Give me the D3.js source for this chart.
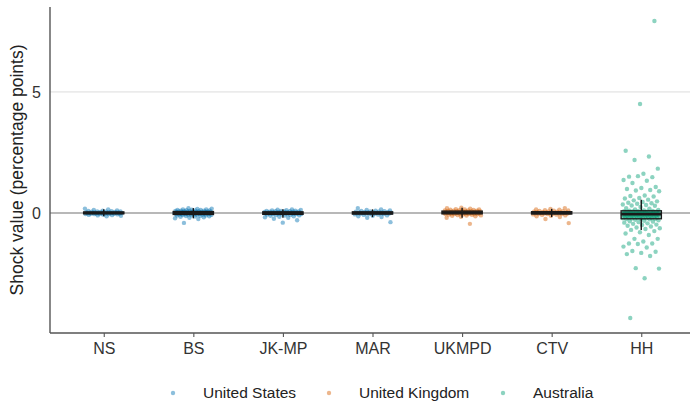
<!DOCTYPE html>
<html>
<head>
<meta charset="utf-8">
<script src="https://cdn.jsdelivr.net/npm/d3@7/dist/d3.min.js"></script>
<style>
  html, body { margin: 0; padding: 0; background: #fff; }
  svg { display: block; font-family: "Liberation Sans", Arial, sans-serif; }
</style>
</head>
<body>
<svg id="chart" width="690" height="402"></svg>
<script>
// ---- Data ----
const categories = ["NS", "BS", "JK-MP", "MAR", "UKMPD", "CTV", "HH"];
const categoryCountry = ["United States", "United States", "United States", "United States", "United Kingdom", "United Kingdom", "Australia"];
const countries = ["United States", "United Kingdom", "Australia"];
const countryColors = ["#0072B2", "#D55E00", "#009E73"];
const yTicks = [0, 5];

const valuesNS = [0.18, 0.15, 0.12, 0.1, 0.09, 0.08, 0.07, 0.06, 0.06, 0.05, 0.05, 0.04, 0.04, 0.03, 0.03, 0.02, 0.02, 0.02, 0.01, 0.01, 0.01, 0.0, 0.0, 0.0, 0.0, -0.01, -0.01, -0.01, -0.02, -0.02, -0.02, -0.03, -0.03, -0.04, -0.04, -0.05, -0.05, -0.06, -0.07, -0.08, -0.09, -0.1, -0.12, -0.14];
const valuesBS = [0.2, 0.18, 0.17, 0.15, 0.14, 0.13, 0.12, 0.12, 0.11, 0.1, 0.1, 0.09, 0.09, 0.08, 0.08, 0.07, 0.07, 0.06, 0.06, 0.06, 0.05, 0.05, 0.05, 0.04, 0.04, 0.04, 0.03, 0.03, 0.03, 0.02, 0.02, 0.02, 0.01, 0.01, 0.01, 0.0, 0.0, 0.0, 0.0, -0.01, -0.01, -0.01, -0.02, -0.02, -0.02, -0.03, -0.03, -0.03, -0.04, -0.04, -0.05, -0.05, -0.06, -0.06, -0.07, -0.07, -0.08, -0.08, -0.09, -0.1, -0.1, -0.11, -0.12, -0.13, -0.14, -0.15, -0.16, -0.18, -0.2, -0.22, -0.25, -0.41];
const valuesJKMP = [0.15, 0.13, 0.12, 0.11, 0.1, 0.09, 0.08, 0.08, 0.07, 0.07, 0.06, 0.06, 0.05, 0.05, 0.04, 0.04, 0.03, 0.03, 0.03, 0.02, 0.02, 0.02, 0.01, 0.01, 0.01, 0.0, 0.0, 0.0, -0.01, -0.01, -0.01, -0.02, -0.02, -0.02, -0.03, -0.03, -0.04, -0.04, -0.05, -0.05, -0.06, -0.07, -0.08, -0.09, -0.1, -0.11, -0.12, -0.14, -0.16, -0.18, -0.2, -0.24, -0.3, -0.4];
const valuesMAR = [0.2, 0.15, 0.12, 0.1, 0.09, 0.08, 0.07, 0.06, 0.05, 0.05, 0.04, 0.04, 0.03, 0.03, 0.02, 0.02, 0.01, 0.01, 0.0, 0.0, 0.0, -0.01, -0.01, -0.02, -0.02, -0.03, -0.03, -0.04, -0.05, -0.06, -0.07, -0.08, -0.1, -0.12, -0.14, -0.17, -0.2, -0.38];
const valuesUKMPD = [0.22, 0.2, 0.18, 0.16, 0.15, 0.14, 0.13, 0.12, 0.11, 0.1, 0.1, 0.09, 0.09, 0.08, 0.08, 0.07, 0.07, 0.06, 0.06, 0.05, 0.05, 0.05, 0.04, 0.04, 0.03, 0.03, 0.03, 0.02, 0.02, 0.02, 0.01, 0.01, 0.01, 0.0, 0.0, 0.0, -0.01, -0.01, -0.01, -0.02, -0.02, -0.03, -0.03, -0.04, -0.04, -0.05, -0.05, -0.06, -0.07, -0.08, -0.09, -0.1, -0.11, -0.12, -0.14, -0.16, -0.2, -0.45];
const valuesCTV = [0.2, 0.17, 0.15, 0.13, 0.11, 0.1, 0.09, 0.08, 0.07, 0.06, 0.05, 0.05, 0.04, 0.04, 0.03, 0.03, 0.02, 0.02, 0.01, 0.01, 0.0, 0.0, 0.0, -0.01, -0.01, -0.02, -0.02, -0.03, -0.03, -0.04, -0.05, -0.06, -0.07, -0.08, -0.1, -0.12, -0.14, -0.17, -0.25, -0.42];
const valuesHH = [
  7.93, 4.5, 2.57, 2.33, 2.19, 1.83, 1.62, 1.5, 1.48, 1.52, 1.36, 1.33, 1.24, 1.07, 1.03, 0.99, 0.95, 0.93, 0.9, 0.72,
  0.7, 0.68, 0.62, 0.6, 0.55, 0.52, 0.48, 0.45, 0.42, 0.4, 0.38, 0.35, 0.33, 0.31, 0.3, 0.25, 0.2, 0.18, 0.15, 0.12,
  0.1, 0.09,
  0.08, 0.07, 0.07, 0.06, 0.06, 0.05, 0.05, 0.05, 0.04, 0.04, 0.04, 0.03, 0.03, 0.03, 0.03, 0.02, 0.02, 0.02, 0.01, 0.01,
  0.01, 0.0, 0.0, 0.0, 0.0, 0.0, -0.01, -0.01, -0.01, -0.02, -0.02, -0.02, -0.02, -0.03, -0.03, -0.03, -0.04, -0.04,
  -0.04, -0.05, -0.05, -0.05, -0.05, -0.06, -0.06, -0.06, -0.07, -0.07, -0.07, -0.08, -0.08, -0.08, -0.09, -0.09, -0.1, -0.1,
  -0.1, -0.11, -0.11, -0.12, -0.12, -0.13, -0.13, -0.14, -0.14, -0.15, -0.15, -0.16, -0.16, -0.17, -0.17, -0.18, -0.18, -0.19,
  -0.2, -0.2, -0.21, -0.21, -0.22, -0.22, -0.23, -0.24, -0.24, -0.25,
  -0.26, -0.28, -0.3, -0.32, -0.34, -0.36, -0.38, -0.4, -0.43, -0.45, -0.48, -0.5, -0.53, -0.56, -0.6, -0.63, -0.66, -0.7,
  -0.75, -0.8, -0.85, -0.91, -1.07, -1.07, -1.18, -1.26, -1.26, -1.28, -1.39, -1.43, -1.57, -1.6, -1.65, -1.7, -1.78,
  -2.28, -2.3, -2.7, -4.34
];

const seriesValues = [valuesNS, valuesBS, valuesJKMP, valuesMAR, valuesUKMPD, valuesCTV, valuesHH];

// ---- Layout ----
const svg = d3.select("#chart");
const W = 690, H = 402;
const panel = { left: 50, right: 695, top: 7, bottom: 333 };

const x = d3.scalePoint().domain(categories).range([panel.left, panel.right]).padding(0.6);
const step = x.step();
const y = d3.scaleLinear().domain([-4.96, 8.51]).range([panel.bottom, panel.top]);

// grid line at 5
svg.append("g").selectAll("line").data(yTicks.filter(d => d !== 0)).join("line")
  .attr("x1", panel.left).attr("x2", W)
  .attr("y1", d => y(d)).attr("y2", d => y(d))
  .attr("stroke", "#dcdcdc").attr("stroke-width", 1);

// zero line
svg.append("line")
  .attr("x1", panel.left).attr("x2", W)
  .attr("y1", y(0)).attr("y2", y(0))
  .attr("stroke", "#a0a0a0").attr("stroke-width", 1.6);

// points (deterministic jitter)
const jitterSeed = [0, 0.37, 0.74, 0.11, 0.48, 0.85, 0.85];
const pts = [];
seriesValues.forEach((vals, ci) => {
  vals.forEach((v, i) => {
    const u = ((i * 0.6180339887 + jitterSeed[ci]) % 1) - 0.5;
    pts.push({ cat: categories[ci], country: categoryCountry[ci], v, dx: u * 2 * 0.21 * step });
  });
});
const color = d3.scaleOrdinal().domain(countries).range(countryColors);

svg.append("g").selectAll("circle").data(pts).join("circle")
  .attr("cx", d => x(d.cat) + d.dx)
  .attr("cy", d => y(d.v))
  .attr("r", 2.2)
  .attr("fill", d => color(d.country))
  .attr("fill-opacity", 0.45);

// boxplots
const boxW = 0.45 * step;
const bg = svg.append("g");
seriesValues.forEach((vals, ci) => {
  const s = vals.slice().sort(d3.ascending);
  const q1 = d3.quantileSorted(s, 0.25), med = d3.quantileSorted(s, 0.5), q3 = d3.quantileSorted(s, 0.75);
  const iqr = q3 - q1;
  const lo = d3.min(s.filter(v => v >= q1 - 1.5 * iqr));
  const hi = d3.max(s.filter(v => v <= q3 + 1.5 * iqr));
  const cx = x(categories[ci]);
  const g = bg.append("g");
  g.append("line").attr("x1", cx).attr("x2", cx).attr("y1", y(hi)).attr("y2", y(q3)).attr("stroke", "#111").attr("stroke-width", 1.4);
  g.append("line").attr("x1", cx).attr("x2", cx).attr("y1", y(q1)).attr("y2", y(lo)).attr("stroke", "#111").attr("stroke-width", 1.4);
  g.append("rect").attr("x", cx - boxW / 2).attr("width", boxW)
    .attr("y", y(q3)).attr("height", Math.max(0, y(q1) - y(q3)))
    .attr("fill", "none").attr("stroke", "#1a1a1a").attr("stroke-width", 1.3);
  g.append("line").attr("x1", cx - boxW / 2).attr("x2", cx + boxW / 2)
    .attr("y1", y(med)).attr("y2", y(med)).attr("stroke", "#1a1a1a").attr("stroke-width", 2.6);
});

// axes
const axisColor = "#555";
svg.append("line").attr("x1", panel.left).attr("x2", W).attr("y1", panel.bottom).attr("y2", panel.bottom)
  .attr("stroke", axisColor).attr("stroke-width", 1.4);
svg.append("line").attr("x1", panel.left).attr("x2", panel.left).attr("y1", panel.top).attr("y2", panel.bottom)
  .attr("stroke", axisColor).attr("stroke-width", 1.4);

const xAxis = svg.append("g").attr("transform", `translate(0,${panel.bottom})`)
  .call(d3.axisBottom(x).tickSize(4).tickPadding(6));
xAxis.select(".domain").remove();
xAxis.selectAll(".tick line").attr("stroke", axisColor).attr("stroke-width", 1.1);
xAxis.selectAll(".tick text").attr("fill", "#333").style("font-size", "16px").style("font-family", "Liberation Sans, Arial, sans-serif");

const yAxis = svg.append("g").attr("transform", `translate(${panel.left},0)`)
  .call(d3.axisLeft(y).tickValues(yTicks).tickSize(0).tickPadding(9));
yAxis.select(".domain").remove();
yAxis.selectAll(".tick text").attr("fill", "#333").style("font-size", "16px").style("font-family", "Liberation Sans, Arial, sans-serif");

// y title
svg.append("text")
  .attr("transform", `translate(23,${(panel.top + panel.bottom) / 2}) rotate(-90)`)
  .attr("text-anchor", "middle")
  .style("font-size", "17.5px").attr("fill", "#222")
  .text("Shock value (percentage points)");

// legend
const legendX = [173, 329, 503];
const lg = svg.append("g");
countries.forEach((c, i) => {
  lg.append("circle").attr("cx", legendX[i]).attr("cy", 393).attr("r", 2.2)
    .attr("fill", countryColors[i]).attr("fill-opacity", 0.45);
  lg.append("text").attr("x", legendX[i] + 30).attr("y", 393).attr("dy", "0.35em")
    .style("font-size", "15.5px").attr("fill", "#222").text(c);
});
</script>
</body>
</html>
